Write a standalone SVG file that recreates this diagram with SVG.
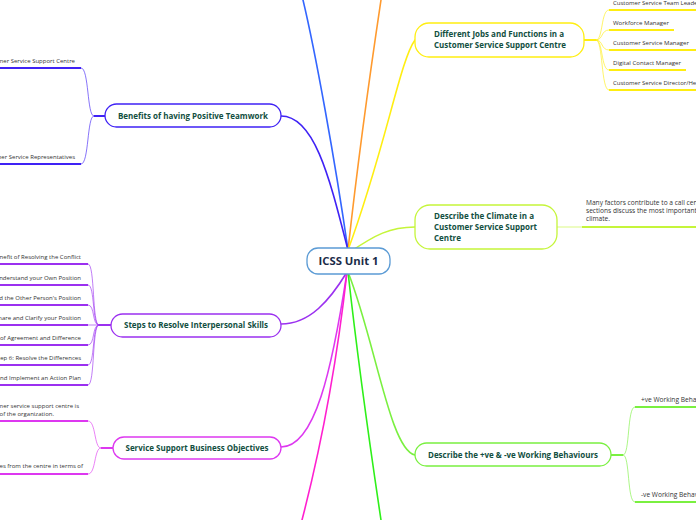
<svg xmlns="http://www.w3.org/2000/svg" width="696" height="520" viewBox="0 0 696 520">
<style>
.br{fill:none;stroke-width:1.6;stroke-linecap:round}
.sub{fill:none;stroke-width:0.9;stroke-opacity:0.7}
.stub{fill:none;stroke-width:2}
.ul{fill:none;stroke-width:2}
.pill{fill:#fff;stroke-width:1.3}
.tl{font-family:"Open Sans","Noto Sans",sans-serif;font-weight:700;font-size:8px;fill:#124f3f}
.ct{font-family:"Open Sans","Noto Sans",sans-serif;font-size:6px;fill:#333}
.cw{font-size:6.6px}
.root{font-family:"Open Sans","Noto Sans",sans-serif;font-weight:700;font-size:10.5px;fill:#1b2b48}
</style>
<rect width="696" height="520" fill="#fff"/>
<g id="connectors">
  <path class="br" stroke="#3366ff" d="M348,250 C335,160 315,50 303,0"/>
  <path class="br" stroke="#ff9a2e" d="M348,250 C358,160 372,60 381,0"/>
  <path class="br" stroke="#ffee11" d="M348,250 C385,150 400,60 415,40"/>
  <path class="br" stroke="#3f22f5" d="M348,250 C330,180 315,116 281,116"/>
  <path class="br" stroke="#c5f53a" d="M350,252 C375,235 390,227 415,227"/>
  <path class="br" stroke="#9b30f0" d="M347,272 C330,300 310,324 281,324"/>
  <path class="br" stroke="#dd38f0" d="M347,272 C332,370 315,447 281,447"/>
  <path class="br" stroke="#7af040" d="M348,272 C375,340 390,450 415,455"/>
  <path class="br" stroke="#ff1fcf" d="M347,272 C335,380 315,470 302,520"/>
  <path class="br" stroke="#2ef019" d="M348,272 C360,380 372,460 381,520"/>

  <path class="stub" stroke="#ffee11" d="M584,40 H596"/>
  <path class="sub" stroke="#ffee11" d="M596,40 C603,40 601,10 609,10"/>
  <path class="sub" stroke="#ffee11" d="M596,40 C603,40 601,30 609,30"/>
  <path class="sub" stroke="#ffee11" d="M596,40 C603,40 601,50 609,50"/>
  <path class="sub" stroke="#ffee11" d="M596,40 C603,40 601,70 609,70"/>
  <path class="sub" stroke="#ffee11" d="M596,40 C603,40 601,90 609,90"/>

  <path class="sub" stroke="#c5f53a" d="M557,227 H582"/>

  <path class="stub" stroke="#7af040" d="M611,455 H623"/>
  <path class="sub" stroke="#7af040" d="M623,455 C630,455 627,407 635,407"/>
  <path class="sub" stroke="#7af040" d="M623,455 C630,455 627,502 635,502"/>

  <path class="stub" stroke="#3f22f5" d="M105,116 H94"/>
  <path class="sub" stroke="#3f22f5" d="M94,116 C87,116 89,68 81,68"/>
  <path class="sub" stroke="#3f22f5" d="M94,116 C87,116 89,164 81,164"/>

  <path class="stub" stroke="#9b30f0" d="M111,325 H99"/>
  <path class="sub" stroke="#9b30f0" d="M99,325 C92,325 95,264 88,264"/>
  <path class="sub" stroke="#9b30f0" d="M99,325 C92,325 95,285 88,285"/>
  <path class="sub" stroke="#9b30f0" d="M99,325 C92,325 95,305 88,305"/>
  <path class="sub" stroke="#9b30f0" d="M99,325 H88"/>
  <path class="sub" stroke="#9b30f0" d="M99,325 C92,325 95,345 88,345"/>
  <path class="sub" stroke="#9b30f0" d="M99,325 C92,325 95,365 88,365"/>
  <path class="sub" stroke="#9b30f0" d="M99,325 C92,325 95,385 88,385"/>

  <path class="stub" stroke="#dd38f0" d="M113,448 H101"/>
  <path class="sub" stroke="#dd38f0" d="M101,448 C94,448 96,421 88,421"/>
  <path class="sub" stroke="#dd38f0" d="M101,448 C94,448 96,474 88,474"/>
</g>

<g id="root">
  <rect x="307" y="248" width="83" height="26" rx="11" fill="#fff" stroke="#5b9bd5" stroke-width="1.3"/>
  <text class="root" x="348.5" y="265" text-anchor="middle" textLength="60" lengthAdjust="spacingAndGlyphs">ICSS Unit 1</text>
</g>

<g id="jobs">
  <rect class="pill" x="415" y="23" width="169" height="34" rx="14" stroke="#ffee11"/>
  <text class="tl" x="499" y="37" text-anchor="middle" textLength="130" lengthAdjust="spacingAndGlyphs">Different Jobs and Functions in a</text>
  <text class="tl" x="500" y="48" text-anchor="middle" textLength="132" lengthAdjust="spacingAndGlyphs">Customer Service Support Centre</text>
</g>
<g id="jobs-1"><path class="ul" stroke="#ffee11" d="M609,10 H696"/><text class="ct" x="613" y="5">Customer Service Team Leader</text></g>
<g id="jobs-2"><path class="ul" stroke="#ffee11" d="M609,30 H674"/><text class="ct" x="613" y="25" textLength="56" lengthAdjust="spacingAndGlyphs">Workforce Manager</text></g>
<g id="jobs-3"><path class="ul" stroke="#ffee11" d="M609,50 H696"/><text class="ct" x="613" y="45" textLength="76" lengthAdjust="spacingAndGlyphs">Customer Service Manager</text></g>
<g id="jobs-4"><path class="ul" stroke="#ffee11" d="M609,70 H686"/><text class="ct" x="613" y="65" textLength="68" lengthAdjust="spacingAndGlyphs">Digital Contact Manager</text></g>
<g id="jobs-5"><path class="ul" stroke="#ffee11" d="M609,90 H696"/><text class="ct" x="613" y="85">Customer Service Director/Head</text></g>

<g id="climate">
  <rect class="pill" x="415" y="205" width="142" height="44" rx="15" stroke="#c5f53a"/>
  <text class="tl" x="434" y="219" textLength="100" lengthAdjust="spacingAndGlyphs">Describe the Climate in a</text>
  <text class="tl" x="434" y="230" textLength="103" lengthAdjust="spacingAndGlyphs">Customer Service Support</text>
  <text class="tl" x="434" y="241" textLength="27" lengthAdjust="spacingAndGlyphs">Centre</text>
</g>
<g id="climate-1">
  <path class="ul" stroke="#c5f53a" d="M582,227 H696"/>
  <text class="ct cw" x="586" y="205">Many factors contribute to a call center's</text>
  <text class="ct cw" x="586" y="213">sections discuss the most important factors</text>
  <text class="ct cw" x="586" y="221">climate.</text>
</g>

<g id="behaviours">
  <rect class="pill" x="415" y="443" width="196" height="23" rx="11.5" stroke="#7af040"/>
  <text class="tl" x="513" y="458" text-anchor="middle" textLength="170" lengthAdjust="spacingAndGlyphs">Describe the +ve &amp; -ve Working Behaviours</text>
</g>
<g id="behaviours-1"><path class="ul" stroke="#7af040" d="M635,407 H696"/><text class="ct cw" x="641" y="402">+ve Working Behaviours</text></g>
<g id="behaviours-2"><path class="ul" stroke="#7af040" d="M635,502 H696"/><text class="ct cw" x="641" y="497">-ve Working Behaviours</text></g>

<g id="teamwork">
  <rect class="pill" x="105" y="104" width="176" height="23" rx="11.5" stroke="#3f22f5"/>
  <text class="tl" x="193" y="119" text-anchor="middle" textLength="150" lengthAdjust="spacingAndGlyphs">Benefits of having Positive Teamwork</text>
</g>
<g id="teamwork-1"><path class="ul" stroke="#3f22f5" d="M81,68 H0"/><text class="ct" x="75" y="63" text-anchor="end">Benefits to the Customer Service Support Centre</text></g>
<g id="teamwork-2"><path class="ul" stroke="#3f22f5" d="M81,164 H0"/><text class="ct" x="75" y="159" text-anchor="end">Benefits to the Customer Service Representatives</text></g>

<g id="steps">
  <rect class="pill" x="111" y="314" width="170" height="23" rx="11.5" stroke="#9b30f0"/>
  <text class="tl" x="196" y="328" text-anchor="middle" textLength="144" lengthAdjust="spacingAndGlyphs">Steps to Resolve Interpersonal Skills</text>
</g>
<g id="steps-1"><path class="ul" stroke="#9b30f0" d="M88,264 H0"/><text class="ct" x="81" y="259" text-anchor="end">Step 1: Identify the Benefit of Resolving the Conflict</text></g>
<g id="steps-2"><path class="ul" stroke="#9b30f0" d="M88,285 H0"/><text class="ct" x="81" y="280" text-anchor="end">Step 2: Understand your Own Position</text></g>
<g id="steps-3"><path class="ul" stroke="#9b30f0" d="M88,305 H0"/><text class="ct" x="81" y="300" text-anchor="end">Step 3: Understand the Other Person's Position</text></g>
<g id="steps-4"><path class="ul" stroke="#9b30f0" d="M88,325 H0"/><text class="ct" x="81" y="320" text-anchor="end">Step 4: Share and Clarify your Position</text></g>
<g id="steps-5"><path class="ul" stroke="#9b30f0" d="M88,345 H0"/><text class="ct" x="81" y="340" text-anchor="end">Step 5: Identify Areas of Agreement and Difference</text></g>
<g id="steps-6"><path class="ul" stroke="#9b30f0" d="M88,365 H0"/><text class="ct" x="81" y="360" text-anchor="end">Step 6: Resolve the Differences</text></g>
<g id="steps-7"><path class="ul" stroke="#9b30f0" d="M88,385 H0"/><text class="ct" x="81" y="380" text-anchor="end">Step 7: Agree and Implement an Action Plan</text></g>

<g id="objectives">
  <rect class="pill" x="113" y="437" width="168" height="22" rx="11" stroke="#dd38f0"/>
  <text class="tl" x="197" y="451" text-anchor="middle" textLength="143" lengthAdjust="spacingAndGlyphs">Service Support Business Objectives</text>
</g>
<g id="objectives-1">
  <path class="ul" stroke="#dd38f0" d="M88,421 H0"/>
  <text class="ct" x="79" y="408" text-anchor="end">The customer service support centre is</text>
  <text class="ct" x="54" y="416" text-anchor="end">an integral part of the organization.</text>
</g>
<g id="objectives-2"><path class="ul" stroke="#dd38f0" d="M88,474 H0"/><text class="ct" x="83" y="468" text-anchor="end">Expectations of services from the centre in terms of</text></g>
</svg>
